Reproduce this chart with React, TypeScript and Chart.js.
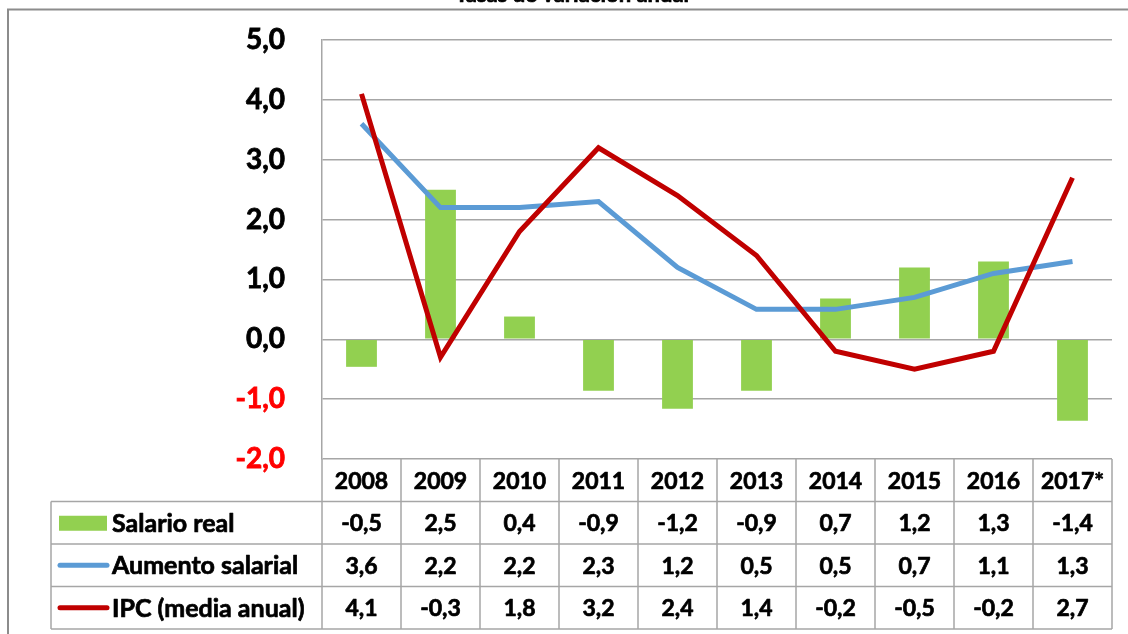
import React, { useEffect, useRef } from "react";
import { Chart, registerables } from "chart.js";

Chart.register(...registerables);

const title = "Tasas de variación anual";
const years = ["2008", "2009", "2010", "2011", "2012", "2013", "2014", "2015", "2016", "2017*"];
const salarioReal = [-0.46, 2.5, 0.38, -0.86, -1.16, -0.86, 0.68, 1.2, 1.3, -1.36];
const aumentoSalarial = [3.6, 2.2, 2.2, 2.3, 1.2, 0.5, 0.5, 0.7, 1.1, 1.3];
const ipc = [4.1, -0.3, 1.8, 3.2, 2.4, 1.4, -0.2, -0.5, -0.2, 2.7];
const seriesNames = ["Salario real", "Aumento salarial", "IPC (media anual)"];
const yMin = -2;
const yMax = 5;

const GREEN = "#92D050";
const BLUE = "#5B9BD5";
const RED = "#C00000";
const GRID = "#A6A6A6";
const FONT = "Lato";

const fmt = (v: number) => v.toFixed(1).replace(".", ",");

function boldText(ctx: any, text: string, x: number, y: number, color: string) {
  ctx.fillStyle = color;
  ctx.strokeStyle = color;
  ctx.lineWidth = 0.7;
  ctx.lineJoin = "round";
  ctx.fillText(text, x, y);
  ctx.strokeText(text, x, y);
}

const tablePlugin = {
  id: "dataTable",
  afterDraw(chart: any) {
    const { ctx, chartArea: ca } = chart;
    const n = years.length;
    const colW = (ca.right - ca.left) / n;
    const rowH = 42.5;
    const top = ca.bottom;
    const legendLeft = 51;
    ctx.save();
    // outer frame
    ctx.strokeStyle = "#8C8C8C";
    ctx.lineWidth = 2;
    ctx.beginPath();
    ctx.moveTo(8, 640);
    ctx.lineTo(8, 9.5);
    ctx.lineTo(1140, 9.5);
    ctx.stroke();
    // title (cut off at top)
    ctx.font = `bold 22px ${FONT}`;
    ctx.textAlign = "center";
    ctx.textBaseline = "alphabetic";
    boldText(ctx, title, 572, 2, "#000");

    // table grid
    ctx.strokeStyle = GRID;
    ctx.lineWidth = 1.5;
    ctx.beginPath();
    for (let i = 0; i <= n; i++) {
      const x = ca.left + i * colW;
      ctx.moveTo(x, top);
      ctx.lineTo(x, top + 4 * rowH);
    }
    for (let r = 1; r <= 4; r++) {
      const y = top + r * rowH;
      ctx.moveTo(legendLeft, y);
      ctx.lineTo(ca.right, y);
    }
    ctx.moveTo(legendLeft, top + rowH);
    ctx.lineTo(legendLeft, top + 4 * rowH);
    ctx.stroke();

    // header + values
    ctx.font = `bold 23px ${FONT}`;
    ctx.textAlign = "center";
    ctx.textBaseline = "middle";
    years.forEach((yr, i) => {
      boldText(ctx, yr, ca.left + (i + 0.5) * colW, top + rowH / 2 + 1, "#000");
    });
    const rows = [salarioReal, aumentoSalarial, ipc];
    rows.forEach((vals, r) => {
      const yc = top + (r + 1.5) * rowH + 1;
      vals.forEach((v, i) => {
        boldText(ctx, fmt(v), ca.left + (i + 0.5) * colW, yc, "#000");
      });
    });
    // legend keys
    rows.forEach((_, r) => {
      const yc = top + (r + 1.5) * rowH;
      if (r === 0) {
        ctx.fillStyle = GREEN;
        ctx.fillRect(59, yc - 7, 48, 15);
      } else {
        ctx.strokeStyle = r === 1 ? BLUE : RED;
        ctx.lineWidth = 5;
        ctx.lineCap = "round";
        ctx.beginPath();
        ctx.moveTo(60, yc);
        ctx.lineTo(107, yc);
        ctx.stroke();
        ctx.lineCap = "butt";
      }
      ctx.font = `bold 25px ${FONT}`;
      ctx.textAlign = "left";
      boldText(ctx, seriesNames[r], 112, yc + 1, "#000");
    });
    ctx.restore();
  },
};

export default function App() {
  const ref = useRef<HTMLCanvasElement>(null);
  useEffect(() => {
    if (!ref.current) return;
    const chart = new Chart(ref.current, {
      type: "bar",
      data: {
        labels: years,
        datasets: [
          {
            type: "bar",
            label: seriesNames[0],
            data: salarioReal,
            backgroundColor: GREEN,
            categoryPercentage: 1,
            barPercentage: 0.39,
            order: 3,
          },
          {
            type: "line",
            label: seriesNames[1],
            data: aumentoSalarial,
            borderColor: BLUE,
            borderWidth: 5,
            pointRadius: 0,
            tension: 0,
            order: 2,
          },
          {
            type: "line",
            label: seriesNames[2],
            data: ipc,
            borderColor: RED,
            borderWidth: 5,
            pointRadius: 0,
            tension: 0,
            order: 1,
          },
        ] as any,
      },
      options: {
        responsive: false,
        animation: false,
        layout: { padding: { left: 0, top: 40, right: 16, bottom: 175 } },
        plugins: { legend: { display: false }, tooltip: { enabled: false } },
        scales: {
          x: { display: false },
          y: {
            min: yMin,
            max: yMax,
            afterFit(scale: any) {
              scale.width = 322;
              scale.paddingTop = 0;
              scale.paddingBottom = 0;
            },
            ticks: {
              stepSize: 1,
              padding: 37,
              font: { family: FONT, size: 28, weight: "bold" },
              color: (c: any) => (c.tick.value < 0 ? "#FF0000" : "#000000"),
              textStrokeColor: (c: any) => (c.tick.value < 0 ? "#FF0000" : "#000000"),
              textStrokeWidth: 0.8,
              callback: (v: any) => fmt(Number(v)),
            },
            grid: { color: GRID, lineWidth: 1.5, drawTicks: false },
            border: { display: true, color: GRID, width: 1.5 },
          },
        },
      } as any,
      plugins: [tablePlugin],
    });
    return () => chart.destroy();
  }, []);
  return (
    <div style={{ position: "absolute", left: 0, top: 0, width: 1128, height: 634 }}>
      <canvas ref={ref} width={1128} height={634} style={{ display: "block" }} />
    </div>
  );
}
